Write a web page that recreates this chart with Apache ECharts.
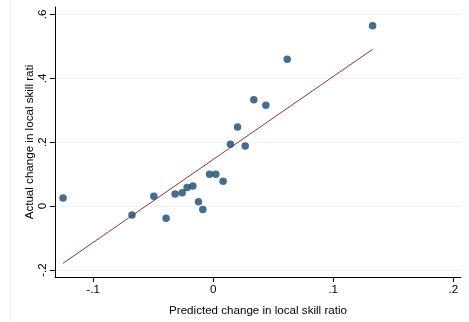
<!DOCTYPE html>
<html>
<head>
<meta charset="utf-8">
<script src="https://cdn.jsdelivr.net/npm/echarts@6/dist/echarts.min.js"></script>
<style>html,body{margin:0;padding:0;background:#fff}#c{width:469px;height:322px}</style>
</head>
<body>
<div id="c"></div>
<script>
const predicted = [-0.125, -0.0676, -0.0494, -0.0392, -0.0317, -0.0258, -0.0217, -0.0169, -0.0122, -0.0086, -0.0030, 0.0022, 0.0083, 0.0144, 0.0203, 0.0267, 0.0339, 0.0439, 0.0617, 0.1328];
const actual    = [0.025, -0.028, 0.031, -0.038, 0.0376, 0.042, 0.058, 0.063, 0.014, -0.011, 0.100, 0.100, 0.078, 0.194, 0.248, 0.188, 0.333, 0.316, 0.460, 0.565];
const fitX = [-0.125, 0.1328];
const fitY = [-0.179, 0.491];
const xTicks = [-0.1, 0, 0.1, 0.2];
const yTicks = [-0.2, 0, 0.2, 0.4, 0.6];
const xTitle = 'Predicted change in local skill ratio';
const yTitle = 'Actual change in local skill rati';

function fmt(v){
  if (Math.abs(v) < 1e-9) return '0';
  let s = (Math.round(v*10)/10).toString();
  return s.replace('0.', '.');
}
const FONT = 'Liberation Sans, Arial, sans-serif';
const chart = echarts.init(document.getElementById('c'), null, {renderer:'canvas'});
chart.setOption({
  animation: false,
  backgroundColor: '#ffffff',
  grid: {left: 55, right: 8, top: 7, bottom: 36, containLabel: false},
  graphic: [{type:'line', shape:{x1:10.5,y1:0,x2:10.5,y2:322}, style:{stroke:'#eeeeee', lineWidth:1}, silent:true}],
  xAxis: {
    type: 'value', min: -0.1317, max: 0.2064,
    name: xTitle, nameLocation: 'middle', nameGap: 28, nameMoveOverlap: false,
    nameTextStyle: {fontFamily: FONT, fontSize: 11.6, color: '#000'},
    axisLine: {show: true, onZero: false, lineStyle: {color: '#000', width: 1}},
    axisTick: {show: true, length: 5, customValues: xTicks, lineStyle: {color: '#000'}},
    axisLabel: {customValues: xTicks, formatter: fmt, fontFamily: FONT, fontSize: 11.6, color: '#000', margin: 7},
    splitLine: {show: false}
  },
  yAxis: {
    type: 'value', min: -0.222, max: 0.6235,
    name: yTitle, nameLocation: 'middle', nameGap: 19, nameRotate: 90, nameMoveOverlap: false,
    nameTextStyle: {fontFamily: FONT, fontSize: 11.6, color: '#000'},
    axisLine: {show: true, onZero: false, lineStyle: {color: '#000', width: 1}},
    axisTick: {show: true, length: 5, customValues: yTicks, lineStyle: {color: '#000'}},
    axisLabel: {customValues: yTicks, formatter: fmt, rotate: 90, fontFamily: FONT, fontSize: 11.6, color: '#000', margin: 6},
    splitLine: {show: true, lineStyle: {color: '#eaf1f2', width: 1}}
  },
  series: [
    {type: 'line', data: fitX.map((x,i)=>[x, fitY[i]]), symbol: 'none', lineStyle: {color: '#90353b', width: 1}, z: 2},
    {type: 'scatter', data: predicted.map((x,i)=>[x, actual[i]]), symbol: 'circle', symbolSize: 7.5, itemStyle: {color: '#1a476f'}, z: 3}
  ]
});
</script>
</body>
</html>
